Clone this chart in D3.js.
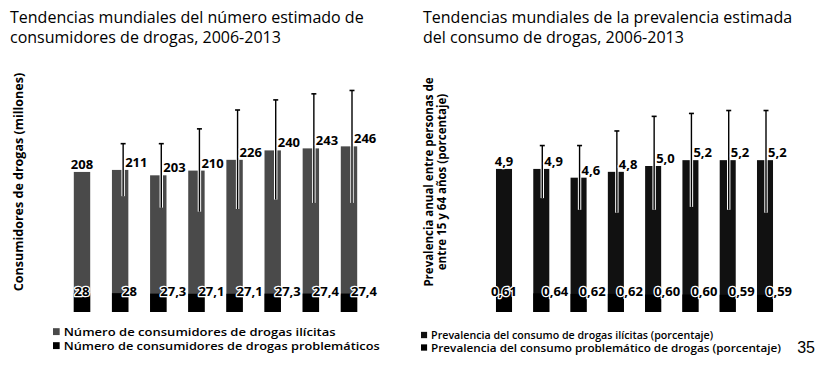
<!DOCTYPE html>
<html lang="es">
<head>
<meta charset="utf-8">
<script src="https://cdn.jsdelivr.net/npm/d3@7"></script>
<style>
  html, body { margin: 0; padding: 0; background: #fff; }
  svg { display: block; }
  text { font-family: "Open Sans", "Noto Sans", sans-serif; fill: #000; }
  .title { font-size: 16px; }
  .ytitle { font-weight: 700; }
  .val { font-size: 13px; font-weight: 700; stroke: #fff; stroke-width: 2.5px; paint-order: stroke; stroke-linejoin: round; }
  .leg { font-weight: 600; }
</style>
</head>
<body>
<svg id="chart" width="821" height="368"></svg>
<script>
// Años del periodo
const years = ["2006", "2007", "2008", "2009", "2010", "2011", "2012", "2013"];

// Número de consumidores (millones)
const consumidores = [208, 211, 203, 210, 226, 240, 243, 246];
const consumidoresBajo = [null, 172, 155, 149, 153, 167, 162, 162];
const consumidoresAlto = [null, 250, 250, 272, 300, 315, 324, 329];
const problematicos = [28, 28, 27.3, 27.1, 27.1, 27.3, 27.4, 27.4];

// Prevalencia (porcentaje de la población de 15 a 64 años)
const prevalencia = [4.9, 4.9, 4.6, 4.8, 5.0, 5.2, 5.2, 5.2];
const prevalenciaBajo = [null, 3.9, 3.5, 3.4, 3.5, 3.6, 3.5, 3.4];
const prevalenciaAlto = [null, 5.7, 5.7, 6.2, 6.7, 6.8, 6.9, 6.9];
const prevalenciaProblematica = [0.61, 0.64, 0.62, 0.62, 0.60, 0.60, 0.59, 0.59];

// Textos
const tituloIzq = ["Tendencias mundiales del número estimado de", "consumidores de drogas, 2006-2013"];
const tituloDer = ["Tendencias mundiales de la prevalencia estimada", "del consumo de drogas, 2006-2013"];
const ejeIzq = ["Consumidores de drogas (millones)"];
const ejeDer = ["Prevalencia anual entre personas de", "entre 15 y 64 años (porcentaje)"];
const leyendaIzq = ["Número de consumidores de drogas ilícitas", "Número de consumidores de drogas problemáticos"];
const leyendaDer = ["Prevalencia del consumo de drogas ilícitas (porcentaje)", "Prevalencia del consumo problemático de drogas (porcentaje)"];
const numeroPagina = "35";

const es = d3.formatLocale({ decimal: ",", thousands: ".", grouping: [3], currency: ["", " €"] });
const fmtEntero = es.format("d");
const fmtMillones = es.format("~f");
const fmtUno = es.format(".1f");
const fmtDos = es.format(".2f");

const svg = d3.select("#chart");
const gris = "#4a4a4a";
const negro = "#111";

function panel(cfg) {
  const g = svg.append("g");
  const x = d3.scalePoint().domain(years).range(cfg.xRange);
  const bw = x.step() * 0.43;
  const y = d3.scaleLinear().domain(cfg.yDomain).range([312, cfg.yTop]);

  // Título
  g.append("text").attr("class", "title").attr("x", cfg.titleX).attr("y", 23)
    .selectAll("tspan").data(cfg.title).join("tspan")
    .attr("x", cfg.titleX).attr("dy", (d, i) => i ? 20 : 0).text(d => d);

  // Título del eje vertical
  const yt = g.append("text").attr("class", "ytitle")
    .style("font-size", cfg.yTitleSize + "px")
    .attr("transform", `translate(${cfg.yTitleX},${cfg.yTitleY}) rotate(-90)`)
    .attr("text-anchor", "middle");
  yt.selectAll("tspan").data(cfg.yTitle).join("tspan")
    .attr("x", 0).attr("dy", (d, i) => i ? 13 : 0).text(d => d);

  // Barras principales
  g.selectAll(".bar").data(years).join("rect")
    .attr("x", d => x(d) - bw / 2).attr("width", bw)
    .attr("y", (d, i) => y(cfg.main[i]))
    .attr("height", (d, i) => y(0) - y(cfg.main[i]))
    .attr("fill", cfg.mainColor);

  // Barras del consumo problemático
  g.selectAll(".sub").data(years).join("rect")
    .attr("x", d => x(d) - bw / 2).attr("width", bw)
    .attr("y", (d, i) => y(cfg.sub[i]))
    .attr("height", (d, i) => y(0) - y(cfg.sub[i]))
    .attr("fill", "#000");

  // Intervalos de estimación
  const ex = d => x(d) + cfg.errOffset;
  const errs = years.map((d, i) => ({ d, lo: cfg.lo[i], hi: cfg.hi[i] })).filter(e => e.hi != null);
  g.selectAll(".errHalo").data(errs).join("line")
    .attr("x1", e => ex(e.d)).attr("x2", e => ex(e.d))
    .attr("y1", e => y(e.hi)).attr("y2", e => y(e.lo))
    .attr("stroke", "#fff").attr("stroke-width", 3.4);
  g.selectAll(".err").data(errs).join("line")
    .attr("x1", e => ex(e.d)).attr("x2", e => ex(e.d))
    .attr("y1", e => y(e.hi)).attr("y2", e => y(e.lo))
    .attr("stroke", "#000").attr("stroke-width", 1.4);
  g.selectAll(".cap").data(errs).join("line")
    .attr("x1", e => ex(e.d) - 2.5).attr("x2", e => ex(e.d) + 2.5)
    .attr("y1", e => y(e.hi)).attr("y2", e => y(e.hi))
    .attr("stroke", "#000").attr("stroke-width", 1.6);

  // Etiquetas de valor superiores
  g.selectAll(".vtop").data(years).join("text").attr("class", "val")
    .attr("x", (d, i) => cfg.hi[i] == null ? x(d) : ex(d) + 2)
    .attr("y", (d, i) => y(cfg.main[i]) - 3)
    .attr("text-anchor", (d, i) => cfg.hi[i] == null ? "middle" : "start")
    .text((d, i) => cfg.fmtMain(cfg.main[i]));

  // Etiquetas de valor inferiores
  g.selectAll(".vsub").data(years).join("text").attr("class", "val")
    .attr("x", (d, i) => i === 0 ? x(d) : x(d) + cfg.subOffset)
    .attr("y", 296)
    .attr("text-anchor", (d, i) => i === 0 ? "middle" : "start")
    .text((d, i) => cfg.fmtSub(cfg.sub[i]));

  // Leyenda
  const lg = g.append("g");
  cfg.legend.forEach((t, i) => {
    const yy = cfg.legY + i * cfg.legStep;
    const s = cfg.legSize;
    lg.append("rect").attr("x", cfg.legX).attr("y", yy - s * 0.68)
      .attr("width", s * 0.58).attr("height", s * 0.6)
      .attr("fill", i === 0 ? cfg.mainColor : "#000");
    const tx = lg.append("text").attr("class", "leg").attr("x", cfg.legX + s * 0.58 + 4).attr("y", yy)
      .style("font-size", s + "px").text(t);
    if (cfg.legWidths) tx.attr("textLength", cfg.legWidths[i]).attr("lengthAdjust", "spacingAndGlyphs");
  });
}

panel({
  xRange: [82, 349], yDomain: [0, 300], yTop: 110,
  title: tituloIzq, titleX: 10,
  yTitle: ejeIzq, yTitleX: 23, yTitleY: 182, yTitleSize: 12.5,
  main: consumidores, sub: problematicos, lo: consumidoresBajo, hi: consumidoresAlto,
  mainColor: gris, errOffset: 3, subOffset: 2,
  fmtMain: fmtEntero, fmtSub: fmtMillones,
  legend: leyendaIzq, legX: 53, legY: 336, legStep: 14, legSize: 11.5,
  legWidths: [272, 316]
});

panel({
  xRange: [504, 765], yDomain: [0, 7], yTop: 107.6,
  title: tituloDer, titleX: 423,
  yTitle: ejeDer, yTitleX: 433, yTitleY: 182, yTitleSize: 11.5,
  main: prevalencia, sub: prevalenciaProblematica, lo: prevalenciaBajo, hi: prevalenciaAlto,
  mainColor: negro, errOffset: 1, subOffset: 1,
  fmtMain: fmtUno, fmtSub: fmtDos,
  legend: leyendaDer, legX: 421, legY: 339, legStep: 12.5, legSize: 10.5,
  legWidths: [282, 350]
});

// Número de página
svg.append("text").attr("x", 815).attr("y", 353).attr("text-anchor", "end")
  .style("font-family", "'Liberation Sans Narrow', 'Liberation Sans', sans-serif")
  .style("font-size", "16px").text(numeroPagina);
</script>
</body>
</html>
